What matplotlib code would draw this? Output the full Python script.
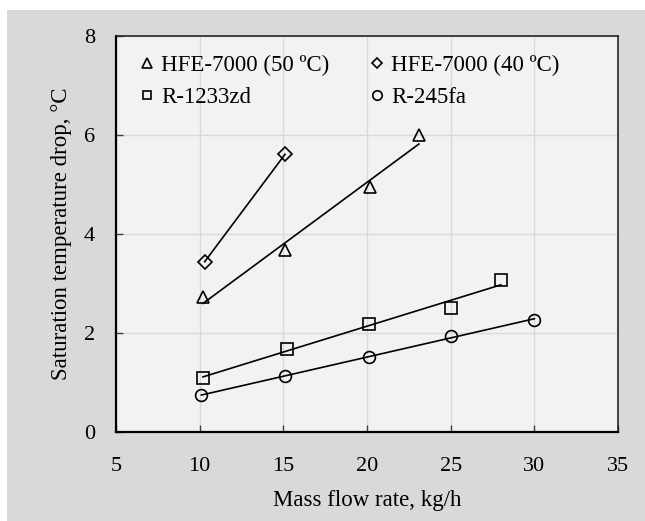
import numpy as np
import matplotlib
matplotlib.use("Agg")
import matplotlib.pyplot as plt
from matplotlib.patches import Rectangle

# Measured saturation temperature drop vs. mass flow rate
hfe50_flow = [10.2, 15.1, 20.2, 23.1]
hfe50_drop = [2.72, 3.68, 4.94, 5.99]

hfe40_flow = [10.3, 15.1]
hfe40_drop = [3.44, 5.61]

r1233_flow = [10.2, 15.2, 20.1, 25.0, 28.0]
r1233_drop = [1.10, 1.67, 2.18, 2.51, 3.07]

r245_flow = [10.1, 15.1, 20.1, 25.0, 30.0]
r245_drop = [0.74, 1.13, 1.52, 1.94, 2.26]

series_labels = ["HFE-7000 (50 \u00baC)", "HFE-7000 (40 \u00baC)", "R-1233zd", "R-245fa"]
x_ticks = [5, 10, 15, 20, 25, 30, 35]
y_ticks = [0, 2, 4, 6, 8]

plt.rcParams["font.family"] = ["Liberation Serif", "DejaVu Serif"]

fig = plt.figure(figsize=(6.45, 5.21), dpi=100, facecolor="white")
fig.patches.append(Rectangle((7 / 645, 0), 1, 1 - 10 / 521, transform=fig.transFigure,
                             facecolor="#d9d9d9", edgecolor="none", zorder=-10))

ax = fig.add_axes([116 / 645, 89 / 521, 502 / 645, 396 / 521])
ax.set_facecolor("#f2f2f2")

series = [
    (hfe50_flow, hfe50_drop, "^", 9),
    (hfe40_flow, hfe40_drop, "D", 7),
    (r1233_flow, r1233_drop, "s", 8),
    (r245_flow, r245_drop, "o", 8.5),
]

handles = []
for (xs, ys, mk, ms), lab in zip(series, series_labels):
    xs = np.asarray(xs)
    ys = np.asarray(ys)
    k, b = np.polyfit(xs, ys, 1)
    xl = np.array([xs.min(), xs.max()])
    ax.plot(xl, k * xl + b, color="black", lw=1.2, zorder=3)
    h, = ax.plot(xs, ys, linestyle="none", marker=mk, markersize=ms,
                 markerfacecolor="none", markeredgecolor="black",
                 markeredgewidth=1.2, zorder=4, label=lab)
    handles.append(h)

ax.set_xlim(5, 35)
ax.set_ylim(0, 8)
ax.set_xticks(x_ticks)
ax.set_yticks(y_ticks)
ax.grid(True, color="#d9d9d9", lw=1.0, zorder=0)
ax.set_axisbelow(True)

for side in ("left", "bottom"):
    ax.spines[side].set_color("black")
    ax.spines[side].set_linewidth(1.6)
for side in ("top", "right"):
    ax.spines[side].set_color("#262626")
    ax.spines[side].set_linewidth(1.2)

ax.tick_params(axis="both", direction="in", length=5, width=1.0, color="#404040",
               labelsize=16)
ax.tick_params(axis="x", pad=18)
ax.tick_params(axis="y", pad=15)

ax.set_xlabel("Mass flow rate, kg/h", fontsize=16.5, labelpad=10)
ax.set_ylabel("Saturation temperature drop, \u00b0C", fontsize=16.5, labelpad=9)

# two-column legend, filled row by row
order = [0, 2, 1, 3]
leg = ax.legend(handles=[handles[i] for i in order], ncol=2, loc="upper left",
                bbox_to_anchor=(0.03, 0.975), frameon=False, fontsize=16.5,
                handlelength=0.6, handletextpad=0.3, columnspacing=1.8,
                labelspacing=0.45, borderaxespad=0, markerscale=0.8)

fig.savefig("out.png", dpi=100, facecolor=fig.get_facecolor())
